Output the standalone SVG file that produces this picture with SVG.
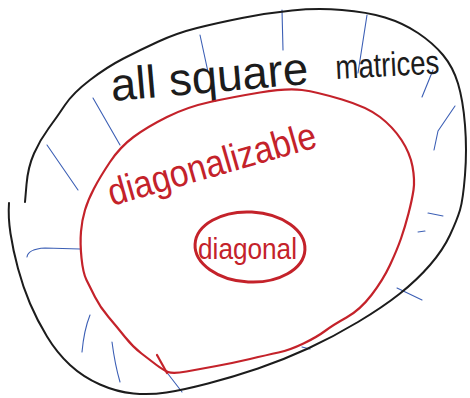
<svg xmlns="http://www.w3.org/2000/svg" width="470" height="398" viewBox="0 0 470 398">
  <style>
    .black { fill: none; stroke: #1c1c1c; stroke-width: 2; stroke-linecap: round; stroke-linejoin: round; }
    .red { fill: none; stroke: #c4222a; stroke-width: 2.2; stroke-linecap: round; stroke-linejoin: round; }
    .redthick { fill: none; stroke: #c4222a; stroke-width: 3; }
    .blue { fill: none; stroke: #3c5fb5; stroke-width: 1.1; stroke-linecap: round; stroke-linejoin: round; }
    .lbl { font-family: "Liberation Sans", "DejaVu Sans", sans-serif; }
    .lblk { fill: #1c1c1c; }
    .lred { fill: #c4222a; }
  </style>
  <rect width="470" height="398" fill="#ffffff"/>

  <g id="hatching">
    <path class="blue" d="M200,35 L208,72"/>
    <path class="blue" d="M282,10 L283,50"/>
    <path class="blue" d="M367,15 L358,73"/>
    <path class="blue" d="M433,70 L422,97"/>
    <path class="blue" d="M455,106 L438,131 L434,150"/>
    <path class="blue" d="M93,98 L120,145"/>
    <path class="blue" d="M47,145 L78,190"/>
    <path class="blue" d="M428,213 L443,216"/>
    <path class="blue" d="M418,232 L425,231"/>
    <path class="blue" d="M27,257 Q28,249 45,248 L80,249"/>
    <path class="blue" d="M397,288 L422,300"/>
    <path class="blue" d="M302,347 L310,349"/>
    <path class="blue" d="M90,315 Q84,330 82,352"/>
    <path class="blue" d="M112,342 Q115,365 120,382"/>
    <path class="blue" d="M165,370 L182,392"/>
  </g>

  <g id="all-square-matrices">
    <path class="black" d="M25,202 L26.5,184.5 Q28,167 34,153.5 Q40,140 48.5,128.5 Q57,117 65,105 Q73,93 90,80 Q107,67 123.5,58.5 Q140,50 158.5,41.5 Q177,33 197,28 Q217,23 242,18 Q267,13 292,10.5 Q317,8 342,10 Q367,12 385,17.5 Q403,23 418,33 Q433,43 443,55 Q453,67 458,83.5 Q463,100 465,125 Q467,150 465,175 Q463,200 460,210 Q457,220 450,235 Q443,250 430,265 Q417,280 400,293.5 Q383,307 358,322 Q333,337 308,348.5 Q283,360 258,368.5 Q233,377 208,383.5 Q183,390 166.5,392.5 Q150,395 133.5,393.5 Q117,392 100,384.5 Q83,377 70,365 Q57,353 47,336.5 Q37,320 30,303.5 Q23,287 18,268.5 Q13,250 10.5,233.5 Q8,217 9,203"/>
    <text class="lbl lblk" x="112" y="101" font-size="46" textLength="198" lengthAdjust="spacingAndGlyphs" transform="rotate(-5 112 101)">all square</text>
    <text class="lbl lblk" x="336" y="79" font-size="34" textLength="104" lengthAdjust="spacingAndGlyphs" transform="rotate(-3 336 79)">matrices</text>
  </g>

  <g id="diagonalizable">
    <path class="red" d="M81.5,258 Q80,243 81,231.5 Q82,220 85,210 Q88,200 94,188.5 Q100,177 110,162 Q120,147 133.5,137 Q147,127 167,117 Q187,107 210,102 Q233,97 260,92.5 Q287,88 302,90 Q317,92 342,99.5 Q367,107 380,117 Q393,127 401.5,140 Q410,153 412.5,166.5 Q415,180 413.5,190 Q412,200 408.5,213.5 Q405,227 401,238.5 Q397,250 390,265 Q383,280 371.5,295 Q360,310 346.5,317.5 Q333,325 325,331 Q317,337 303.5,343.5 Q290,350 278.5,352.5 Q267,355 250,359 Q233,363 216.5,366 Q200,369 186.5,371.5 Q173,374 168,372 Q163,370 156.5,365 Q150,360 141.5,353.5 Q133,347 125,337 Q117,327 108.5,317 Q100,307 95,297 Q90,287 86.5,280 Q83,273 81.5,258 Z"/>
    <path class="red" d="M157,355 L167,373"/>
    <text class="lbl lred" x="112" y="206" font-size="38" textLength="215" lengthAdjust="spacingAndGlyphs" transform="rotate(-16 112 206)">diagonalizable</text>
  </g>

  <g id="diagonal">
    <ellipse class="redthick" cx="250" cy="247" rx="55" ry="35" transform="rotate(3 250 247)"/>
    <text class="lbl lred" x="198" y="259" font-size="30" textLength="99" lengthAdjust="spacingAndGlyphs">diagonal</text>
  </g>
</svg>
